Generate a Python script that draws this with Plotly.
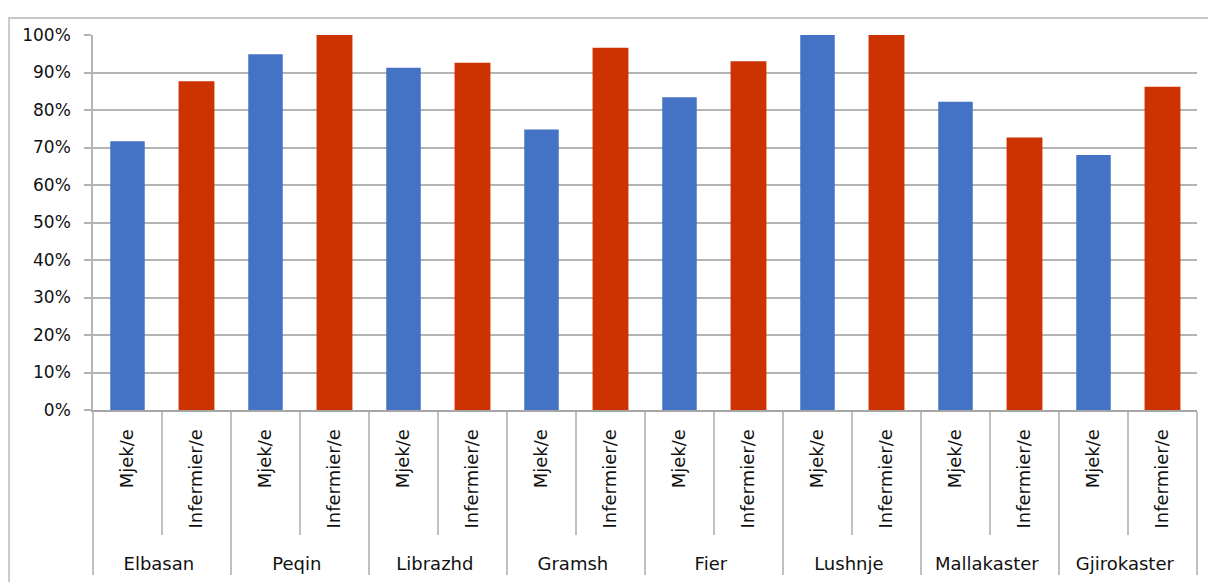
import plotly.graph_objects as go

regions = ["Elbasan", "Peqin", "Librazhd", "Gramsh", "Fier", "Lushnje", "Mallakaster", "Gjirokaster"]
roles = ["Mjek/e", "Infermier/e"]
mjek = [0.717, 0.949, 0.913, 0.748, 0.834, 1.0, 0.822, 0.68]
infermier = [0.877, 1.0, 0.926, 0.966, 0.930, 1.0, 0.727, 0.862]
yticks = [0, 0.1, 0.2, 0.3, 0.4, 0.5, 0.6, 0.7, 0.8, 0.9, 1.0]
ytick_text = ["0%", "10%", "20%", "30%", "40%", "50%", "60%", "70%", "80%", "90%", "100%"]

FONT = "DejaVu Sans"
GRID = "#b4b4b4"
PAD = "\u00a0\u00a0\u00a0"  # pushes the group row further below the rotated labels
role_labels = [PAD + r for r in roles]

fig = go.Figure()
xcat = [[], []]
for r in regions:
    for ro in role_labels:
        xcat[0].append(r)
        xcat[1].append(ro)

fig.add_trace(go.Bar(
    x=[regions, [role_labels[0]] * len(regions)], y=mjek,
    marker=dict(color="#4472c4", line=dict(width=0)), showlegend=False, width=0.5,
))
fig.add_trace(go.Bar(
    x=[regions, [role_labels[1]] * len(regions)], y=infermier,
    marker=dict(color="#cc3300", line=dict(width=0)), showlegend=False, width=0.52,
))

# page body has an 8px margin, so the figure is sized/offset to compensate
fig.update_layout(
    width=1208, height=574,
    margin=dict(l=85, r=19, t=27, b=172, autoexpand=False),
    paper_bgcolor="white", plot_bgcolor="white",
    barmode="overlay",
    font=dict(family=FONT, color="#1a1a1a"),
    shapes=[dict(type="rect", xref="paper", yref="paper", x0=-0.076, x1=1.2, y0=-0.6, y1=1.0455,
                 line=dict(color="#c8c8c8", width=2), fillcolor="rgba(0,0,0,0)", layer="below")],
)
fig.update_xaxes(
    type="multicategory", automargin=False,
    categoryorder="array", categoryarray=xcat,
    tickangle=-90,
    tickfont=dict(family=FONT, size=18, color="#111111"),
    showline=True, linecolor="#a6a6a6", linewidth=2,
    ticks="outside", tickson="boundaries", ticklen=123, tickcolor="#c0c0c0", tickwidth=1.5,
    showdividers=True, dividercolor="#c0c0c0", dividerwidth=1.5,
    ticklabelstandoff=10,
    showgrid=False,
)
fig.update_yaxes(
    automargin=False,
    range=[0, 1.0], tickvals=yticks, ticktext=ytick_text,
    tickfont=dict(family=FONT, size=17, color="#111111"),
    showgrid=True, gridcolor=GRID, gridwidth=1.5,
    ticks="outside", ticklen=7, tickcolor=GRID, tickwidth=1.5,
    showline=True, linecolor=GRID, linewidth=1.5,
    ticklabelstandoff=10,
    zeroline=False,
)

fig.write_html("out.html")
